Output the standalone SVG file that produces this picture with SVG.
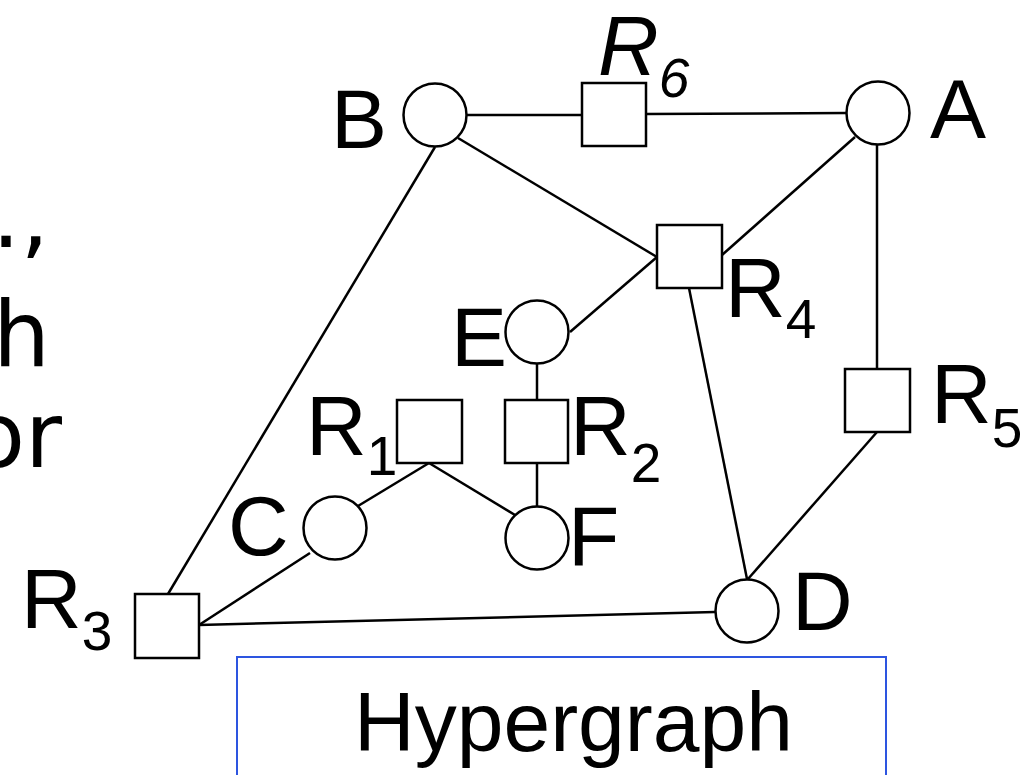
<svg xmlns="http://www.w3.org/2000/svg" width="1024" height="775" viewBox="0 0 1024 775">
<style>
.c{fill:#fff;stroke:#000;stroke-width:2.5}
.s{fill:#fff;stroke:#000;stroke-width:2.5}
.e{stroke:#000;stroke-width:2.5;fill:none}
.l{font-family:"Liberation Sans",Arial,sans-serif;font-size:84px;fill:#000}
.sub{font-size:55px}
.side{font-family:"DejaVu Sans",Verdana,sans-serif;font-size:90px;fill:#000}
</style>
<rect width="1024" height="775" fill="#fff"/>
<g id="side-text">
<text class="side" x="49" y="247" text-anchor="end">.,</text>
<text class="side" x="50" y="366" text-anchor="end">h</text>
<text class="side" x="62" y="467" text-anchor="end">or</text>
</g>
<g id="connectors">
<line class="e" x1="466" y1="115" x2="582" y2="115"/>
<line class="e" x1="646" y1="114" x2="846" y2="113"/>
<line class="e" x1="458" y1="138" x2="657" y2="257"/>
<line class="e" x1="855" y1="137" x2="722" y2="255"/>
<line class="e" x1="570" y1="332" x2="657" y2="257"/>
<line class="e" x1="877" y1="145" x2="877" y2="369"/>
<line class="e" x1="689" y1="288" x2="747" y2="579"/>
<line class="e" x1="877" y1="432" x2="748" y2="579"/>
<line class="e" x1="435" y1="147" x2="168" y2="594"/>
<line class="e" x1="310" y1="553" x2="199" y2="625"/>
<line class="e" x1="199" y1="625" x2="715" y2="612"/>
<line class="e" x1="537" y1="364" x2="537" y2="400"/>
<line class="e" x1="537" y1="463" x2="537" y2="506"/>
<line class="e" x1="429" y1="463" x2="358" y2="506"/>
<line class="e" x1="429" y1="463" x2="515" y2="515"/>
</g>
<g id="node-B"><circle class="c" cx="435" cy="115" r="31.5"/><text class="l" x="331" y="148">B</text></g>
<g id="node-A"><circle class="c" cx="878" cy="113" r="31.5"/><text class="l" x="930" y="138">A</text></g>
<g id="node-E"><circle class="c" cx="537" cy="332" r="31.5"/><text class="l" x="451" y="366">E</text></g>
<g id="node-F"><circle class="c" cx="537" cy="538" r="31.5"/><text class="l" x="568" y="565">F</text></g>
<g id="node-C"><circle class="c" cx="335" cy="528" r="31.5"/><text class="l" x="228" y="555">C</text></g>
<g id="node-D"><circle class="c" cx="747" cy="611" r="31.5"/><text class="l" x="792" y="630">D</text></g>
<g id="node-R6"><rect class="s" x="582" y="83" width="64" height="63"/><text class="l" x="598" y="75" font-style="italic">R<tspan class="sub" dy="22">6</tspan></text></g>
<g id="node-R4"><rect class="s" x="657" y="225" width="65" height="63"/><text class="l" x="725" y="317">R<tspan class="sub" dy="21">4</tspan></text></g>
<g id="node-R1"><rect class="s" x="397" y="400" width="65" height="63"/><text class="l" x="306" y="455">R<tspan class="sub" dy="20">1</tspan></text></g>
<g id="node-R2"><rect class="s" x="505" y="400" width="63" height="63"/><text class="l" x="570" y="455">R<tspan class="sub" dy="27">2</tspan></text></g>
<g id="node-R5"><rect class="s" x="845" y="369" width="65" height="63"/><text class="l" x="931" y="423">R<tspan class="sub" dy="24">5</tspan></text></g>
<g id="node-R3"><rect class="s" x="135" y="594" width="64" height="64"/><text class="l" x="21" y="628">R<tspan class="sub" dy="22">3</tspan></text></g>
<g id="caption">
<rect x="237" y="657" width="649" height="130" fill="none" stroke="#2d55e0" stroke-width="2"/>
<text class="l" x="573.5" y="751" font-size="86" text-anchor="middle">Hypergraph</text>
</g>
</svg>
